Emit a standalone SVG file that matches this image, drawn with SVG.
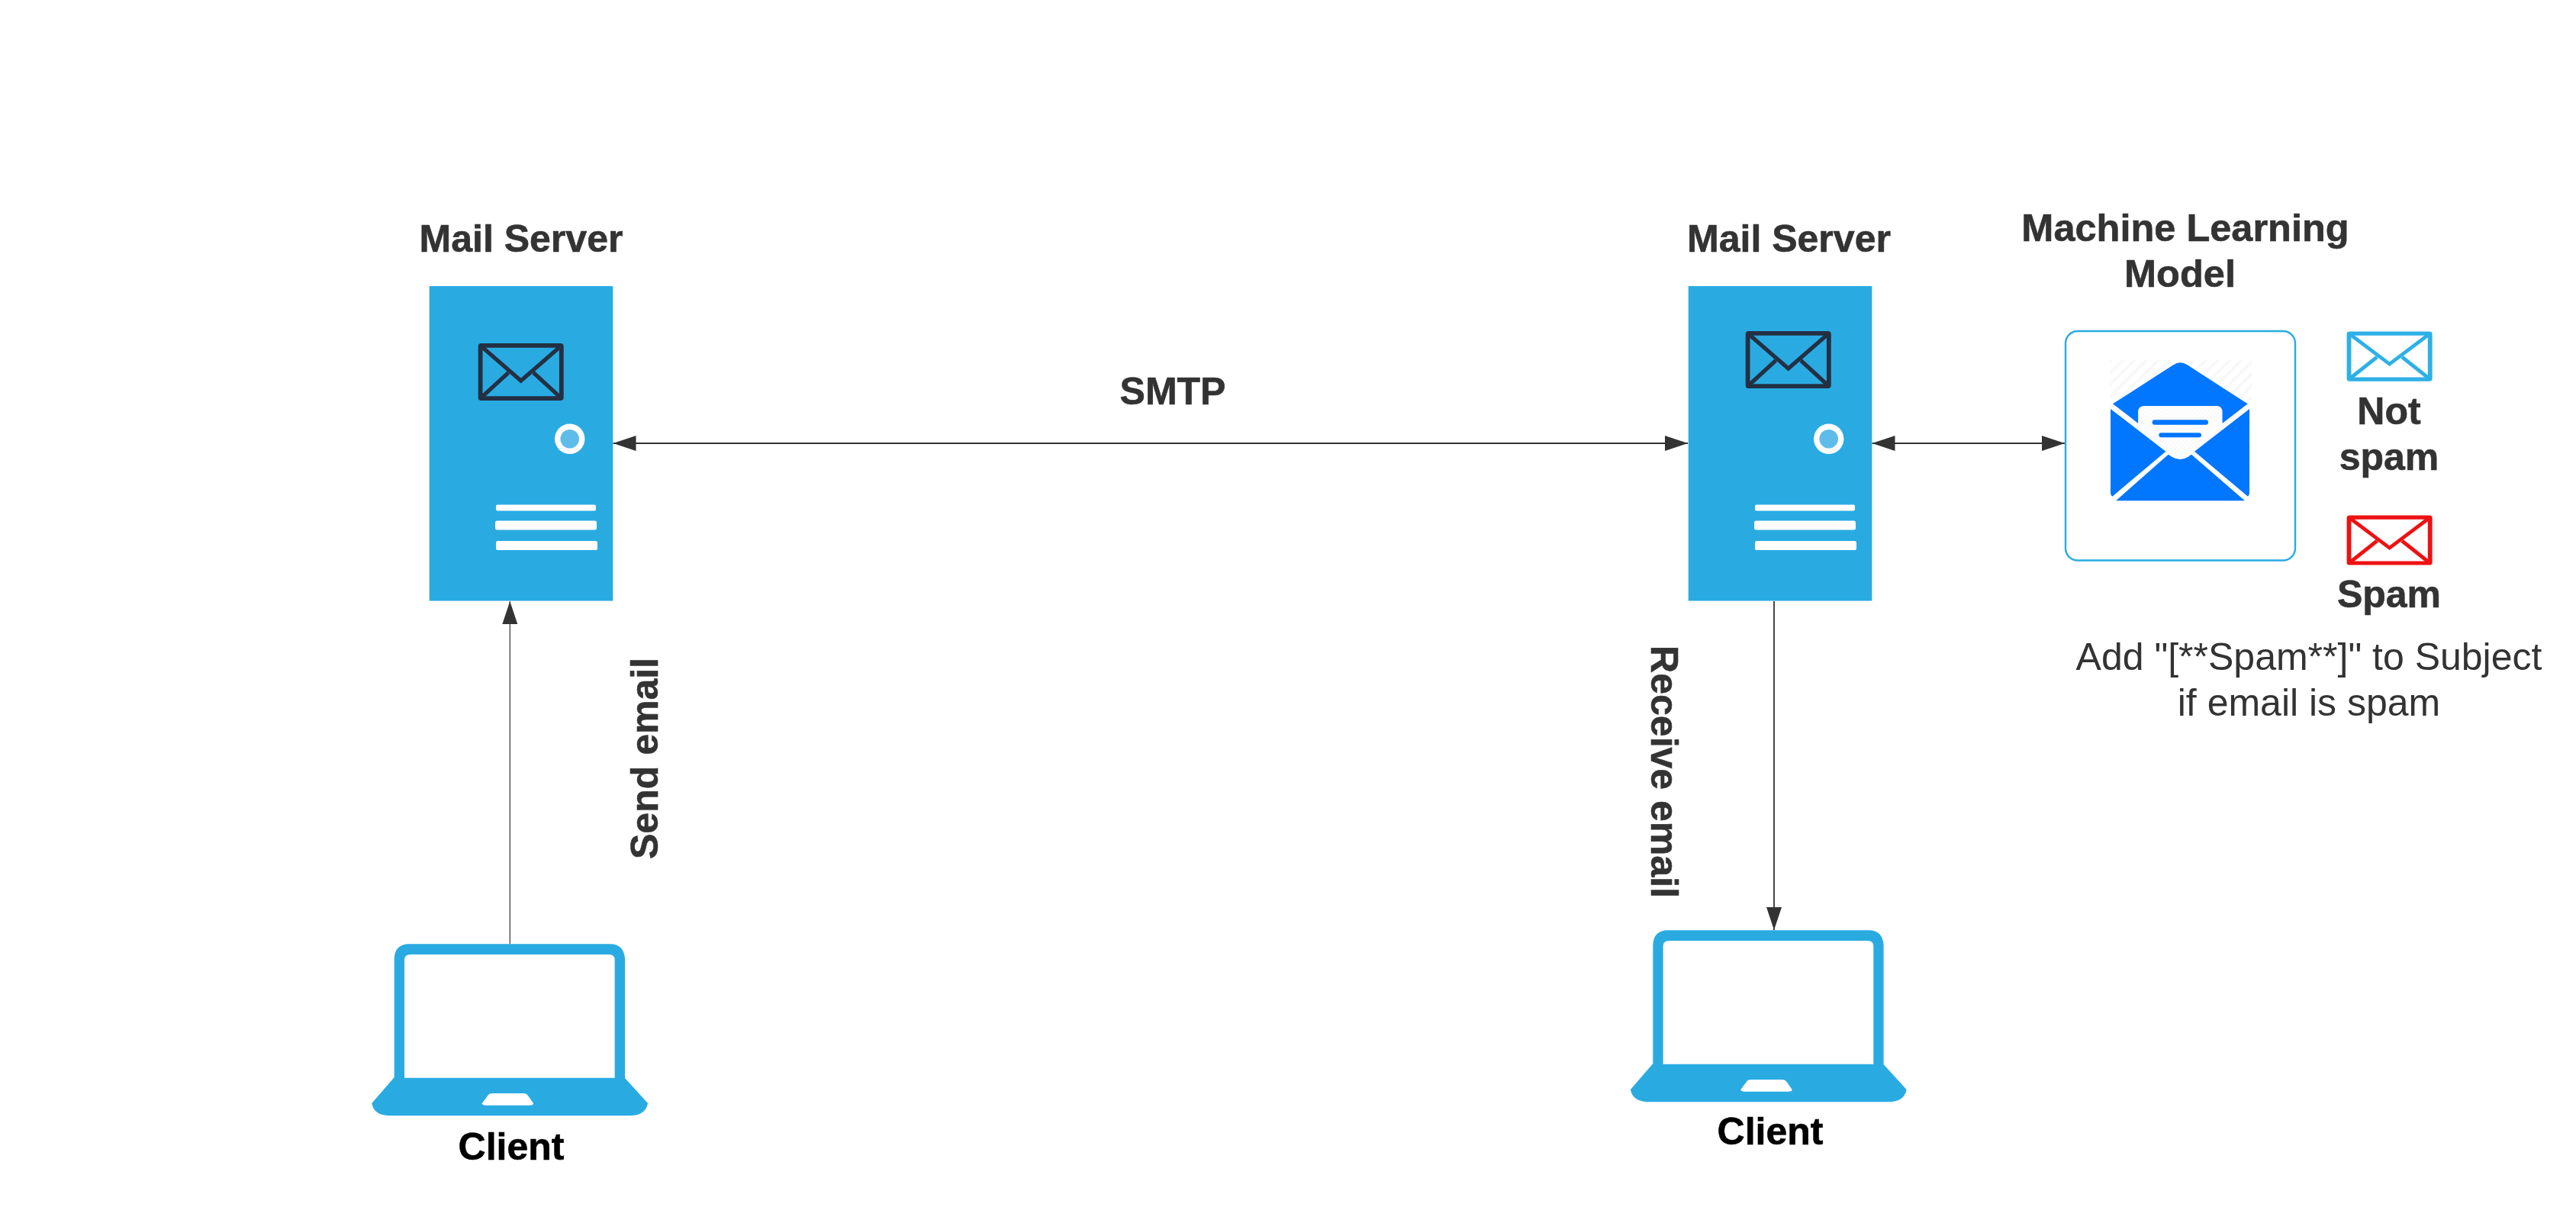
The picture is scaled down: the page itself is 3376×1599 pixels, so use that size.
<svg xmlns="http://www.w3.org/2000/svg" width="3376" height="1599" viewBox="0 0 3376 1599">
<style>
text{font-family:"Liberation Sans",Arial,sans-serif;font-size:50px;fill:#333;text-anchor:middle}
.b{font-weight:700;stroke:#333;stroke-width:.6}
.k{fill:#000;stroke:#000}
.srv{fill:#29ABE2}
.conn{stroke:#333;stroke-width:1.8;fill:none}
.env{fill:none;stroke-linejoin:round}
.bar{fill:#fff}
.lap{fill:#29ABE2;fill-rule:evenodd}
.mail{fill:#0176FE}
.mline{fill:#0176FE}
</style>
<defs>
<marker id="ah" markerUnits="userSpaceOnUse" markerWidth="32" markerHeight="22" refX="30" refY="10.5" orient="auto-start-reverse" viewBox="0 0 32 22"><path d="M0 .5L30 10.5L0 20.5Z" fill="#333"/></marker>
<pattern id="hatch" patternUnits="userSpaceOnUse" width="11" height="11" patternTransform="rotate(45)"><rect width="11" height="11" fill="#fff"/><rect width="4" height="11" fill="#f8f8f8"/></pattern>
<g id="envelope">
<rect x="2.9" y="2.9" width="106.2" height="69.2" rx="1" stroke-width="5.8"/>
<path d="M3 3L56 49L109 3M3 72L39.5 38.5M109 72L72.5 38.5" stroke-width="5.2" stroke-linejoin="miter"/>
</g>
<g id="srvbody">
<rect class="srv" x="0" y="0" width="240.6" height="412.5"/>
<circle cx="184" cy="200.2" r="19.7" fill="#fff"/>
<circle cx="184" cy="200.2" r="12.3" fill="#5FBCEA"/>
<rect class="bar" x="87.3" y="286.4" width="131" height="8.2" rx="2"/>
<rect class="bar" x="86.3" y="307.5" width="133" height="12.1" rx="2.5"/>
<rect class="bar" x="87.3" y="334" width="133" height="12" rx="2.5"/>
</g>
<g id="laptop">
<path class="lap" d="M516.7 1412V1256Q518 1237.3 536 1237.3H800Q817 1237.3 819 1256V1413L849 1446Q846 1462.3 825 1462.3H512Q490 1462.3 487.3 1446ZM530 1412.7H805.7V1258Q805.7 1251 798 1251H538Q530 1251 530 1258ZM640 1435Q641 1433 645 1433H686Q690 1433 692 1436L699 1446Q699 1448.7 694 1448.7H637Q631.7 1448.7 631.7 1446Z"/>
</g>
</defs>

<g id="connectors">
<line class="conn" x1="803.5" y1="581" x2="2212" y2="581" marker-start="url(#ah)" marker-end="url(#ah)"/>
<line class="conn" x1="2453.5" y1="581" x2="2706" y2="581" marker-start="url(#ah)" marker-end="url(#ah)"/>
<line class="conn" x1="668.3" y1="1237" x2="668.3" y2="788" marker-end="url(#ah)" style="stroke-width:1.2"/>
<line class="conn" x1="2325" y1="788" x2="2325" y2="1219" marker-end="url(#ah)"/>
</g>

<g id="server-left">
<use href="#srvbody" x="562.7" y="375"/>
<use href="#envelope" class="env" x="626.7" y="450" stroke="#233043"/>
<text class="b" x="683" y="330">Mail Server</text>
</g>
<g id="server-right">
<use href="#srvbody" x="2212.7" y="375"/>
<use href="#envelope" class="env" x="2287.7" y="434" stroke="#233043"/>
<text class="b" x="2344.5" y="330">Mail Server</text>
</g>

<g id="ml-model">
<text class="b" style="font-size:50.5px" x="2864" y="316">Machine Learning</text>
<text class="b" style="font-size:50.5px" x="2857" y="376">Model</text>
<rect x="2707" y="434" width="301" height="300.5" rx="16" fill="#fff" stroke="#29ABE2" stroke-width="2.4"/>
<rect x="2766" y="472" width="185" height="128" fill="url(#hatch)"/>
<g class="mail-icon" transform="translate(2750 460) scale(.33333)">
<path class="mail" d="M57 208L157 285V240Q157 217 180 217H465Q487 217 487 240V285L587 208L350 55Q322 37 295 55Z"/>
<path class="mail" d="M48 228L265 395L55 572Q48 568 48 555Z"/>
<path class="mail" d="M594 228L378 395L588 572Q594 568 594 555Z"/>
<path class="mail" d="M70 588L275 407L290 417Q322 435 352 417L366 407L575 588Q573 589 565 589H80Q72 589 70 588Z"/>
<path d="M157 240Q157 217 180 217H465Q487 217 487 240V285L378 372L350 408Q322 432 295 408L265 372L157 285Z" fill="url(#hatch)"/>
<rect class="mline" x="212" y="271" width="220" height="19" rx="9.5"/>
<rect class="mline" x="238" y="322" width="167" height="18" rx="9"/>
</g>
</g>

<g id="not-spam">
<use href="#envelope" class="env" transform="translate(3075.6 434.6) scale(1 .867)" stroke="#2DB0E6"/>
<text class="b" x="3131" y="556">Not</text>
<text class="b" x="3131" y="616">spam</text>
</g>
<g id="spam">
<use href="#envelope" class="env" transform="translate(3075.6 675.6) scale(1 .867)" stroke="#EE1111"/>
<text class="b" x="3131" y="796">Spam</text>
</g>
<g id="spam-note">
<text x="3026" y="878">Add "[**Spam**]" to Subject</text>
<text x="3026" y="938">if email is spam</text>
</g>

<g id="client-left">
<use href="#laptop"/>
<text class="b k" x="670" y="1520">Client</text>
</g>
<g id="client-right">
<use href="#laptop" x="1649.6" y="-18"/>
<text class="b k" x="2320" y="1500">Client</text>
</g>

<g id="labels">
<text class="b" x="1537" y="530">SMTP</text>
<text class="b" transform="translate(862 994) rotate(-90)">Send email</text>
<text class="b" transform="translate(2164 1011.5) rotate(90)">Receive email</text>
</g>
</svg>
